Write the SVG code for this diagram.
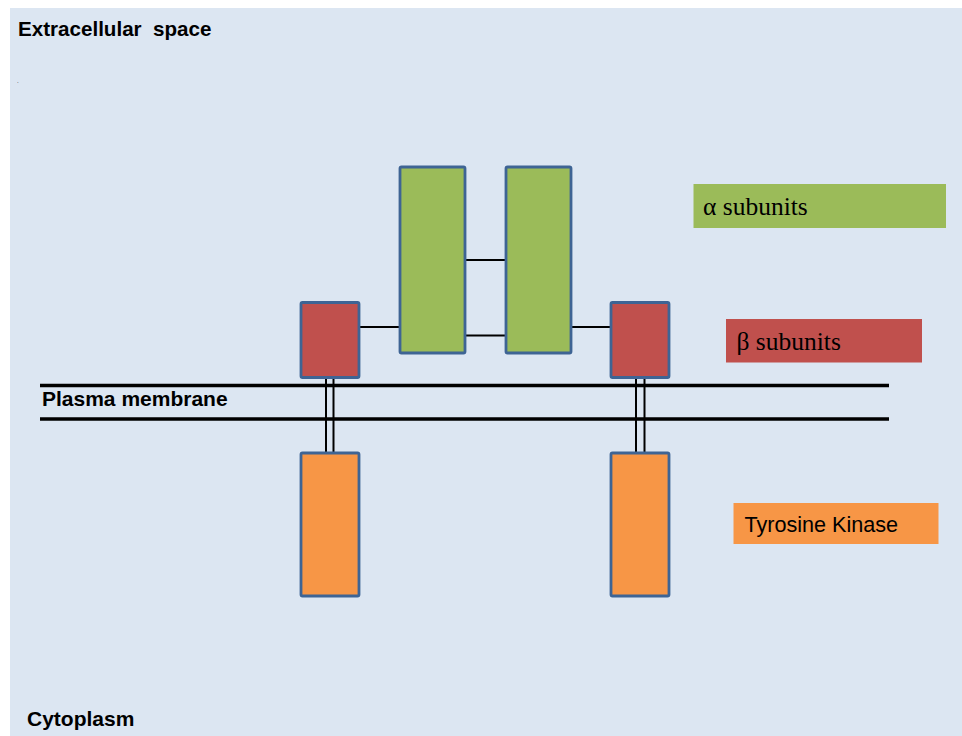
<svg xmlns="http://www.w3.org/2000/svg" width="962" height="736" viewBox="0 0 962 736">
<style>
.box{stroke:#3E6494;stroke-width:2.8}
.green{fill:#9BBB59}
.red{fill:#C0504D}
.orange{fill:#F79646}
.link{stroke:#000;stroke-width:2;fill:none}
.mem{stroke:#000;stroke-width:3.5}
.lbl{font-family:"Liberation Sans",Arial,sans-serif;font-weight:bold;fill:#000}
.serif{font-family:"Liberation Serif","Times New Roman",serif;fill:#000}
.sans{font-family:"Liberation Sans",Arial,sans-serif;fill:#000}
</style>
<rect x="0" y="0" width="962" height="736" fill="#FFFFFF"/>
<rect x="10" y="8" width="952" height="728" fill="#DCE6F2"/>
<text class="lbl" x="18" y="36" font-size="20.6" xml:space="preserve">Extracellular  space</text>
<text class="sans" x="17" y="83" font-size="6" fill="#666">.</text>
<text class="lbl" x="42" y="406" font-size="21">Plasma membrane</text>
<text class="lbl" x="27" y="726" font-size="21">Cytoplasm</text>
<g id="membrane">
<line class="mem" x1="40" y1="385.5" x2="889" y2="385.5"/>
<line class="mem" x1="40" y1="419" x2="889" y2="419"/>
</g>
<g id="connectors">
<line class="link" x1="359" y1="327" x2="400" y2="327"/>
<line class="link" x1="465" y1="260" x2="506" y2="260"/>
<line class="link" x1="465" y1="335.5" x2="506" y2="335.5"/>
<line class="link" x1="571" y1="327" x2="611" y2="327"/>
<line class="link" x1="326" y1="378" x2="326" y2="453"/>
<line class="link" x1="333.5" y1="378" x2="333.5" y2="453"/>
<line class="link" x1="636" y1="378" x2="636" y2="453"/>
<line class="link" x1="644.5" y1="378" x2="644.5" y2="453"/>
</g>
<g id="alpha1"><rect class="box green" x="400" y="167" width="65" height="186" rx="1.5"/></g>
<g id="alpha2"><rect class="box green" x="506" y="167" width="65" height="186" rx="1.5"/></g>
<g id="beta1"><rect class="box red" x="301" y="302.5" width="58" height="75" rx="1.5"/></g>
<g id="beta2"><rect class="box red" x="611" y="302.5" width="58" height="75" rx="1.5"/></g>
<g id="tk1"><rect class="box orange" x="301" y="453" width="58" height="143" rx="1.5"/></g>
<g id="tk2"><rect class="box orange" x="611" y="453" width="58" height="143" rx="1.5"/></g>
<g id="legend-alpha">
<rect class="green" x="693.5" y="184" width="252.5" height="44"/>
<text class="serif" x="703" y="215" font-size="25.5">α subunits</text>
</g>
<g id="legend-beta">
<rect class="red" x="726" y="319" width="196" height="43.5"/>
<text class="serif" x="736.5" y="350" font-size="25.5">β subunits</text>
</g>
<g id="legend-tk">
<rect class="orange" x="733.5" y="503" width="205" height="41"/>
<text class="sans" x="744.5" y="532" font-size="21.6">Tyrosine Kinase</text>
</g>
</svg>
